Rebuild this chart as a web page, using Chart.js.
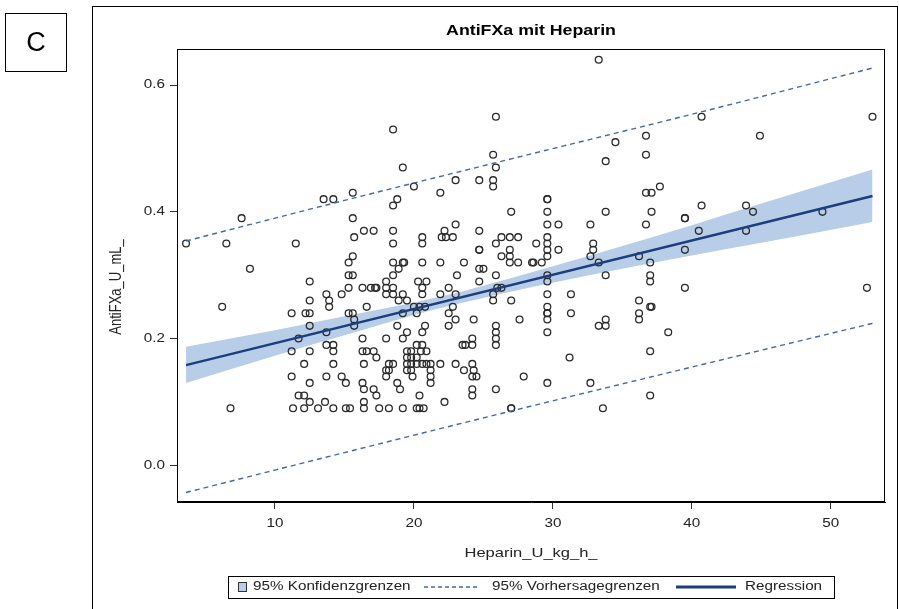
<!DOCTYPE html>
<html>
<head>
<meta charset="utf-8">
<title>AntiFXa mit Heparin</title>
<script src="https://cdn.jsdelivr.net/npm/chart.js@4.4.1/dist/chart.umd.min.js"></script>
<style>
  html, body { margin: 0; padding: 0; background: #fff; }
</style>
</head>
<body>
<canvas id="plot" width="899" height="609"></canvas>
<script>
// Beobachtungen: Heparin-Dosis (U/kg/h) gegen Anti-Xa-Spiegel (U/mL)
const heparin = [
  18.5, 19.2, 20.0, 7.6, 13.5, 14.2, 15.6, 15.6, 16.4, 17.1, 18.5, 18.8, 18.5,
  33.3, 25.9, 25.7, 25.9, 23.0, 24.7, 25.7, 25.7, 21.9, 34.5, 33.8, 36.7, 36.7, 36.7, 37.1,
  29.6, 29.6, 29.6, 27.0, 33.8, 37.1, 23.0, 24.7, 29.6, 30.4, 32.7, 36.7, 22.2,
  53.0, 40.7, 44.9, 37.7, 40.7, 39.5, 39.5, 43.9, 44.4, 49.4, 40.5, 43.9,
  39.5, 39.5, 52.6, 38.3, 37.0, 37.0, 37.0, 37.0, 37.1, 37.0, 37.0,
  3.6, 6.5, 8.2, 6.2, 6.8,
  11.5, 15.7, 18.5, 15.6, 15.3, 18.5, 19.2, 19.3, 18.9, 18.5, 15.3, 15.6, 12.5, 18.0,
  15.3, 16.3, 16.9, 17.2, 17.3, 18.0, 18.5, 13.7, 14.8, 18.0, 18.5, 19.2,
  12.5, 13.9, 18.9, 19.5, 13.9, 16.6, 20.0, 11.2, 12.2, 12.5, 15.3, 15.6, 19.2, 20.2,
  15.7, 12.5, 15.7, 18.8, 13.7, 19.5, 11.7, 16.3, 18.0, 19.2, 13.7, 14.2,
  11.2, 12.5, 14.2, 16.3, 16.6, 17.1, 17.3, 12.1, 14.2, 16.4, 18.2, 18.5, 18.0, 18.2,
  11.2, 13.7, 14.8, 18.0, 12.5, 15.1, 16.3, 18.8, 16.4, 17.1, 19.0, 11.7, 12.1, 17.3,
  12.5, 13.6, 16.4, 11.3, 12.1, 13.1, 14.2, 15.1, 15.4, 16.4, 17.5, 18.2, 19.2, 20.2,
  19.5, 19.8, 20.5, 20.9, 20.2, 20.6, 19.5, 19.8, 20.2, 19.5, 19.8, 20.2, 20.6, 20.9, 21.2,
  19.5, 19.8, 21.2, 19.9, 21.2, 21.2, 20.4, 20.6, 20.8, 20.3, 20.9, 20.6, 20.6, 20.6, 20.6, 20.6,
  20.4, 20.8,
  22.0, 22.3, 22.8, 26.3, 26.9, 27.5, 29.6, 25.9, 28.8, 29.6, 32.9,
  24.7, 24.7, 26.9, 29.6, 30.4, 32.9, 26.3, 26.9, 29.6, 32.7, 36.2,
  21.9, 23.6, 26.9, 27.5, 28.5, 28.6, 29.2, 33.3, 24.7, 25.0,
  23.1, 25.9, 29.6, 33.8, 24.7, 29.6, 22.5, 26.0, 26.3,
  21.9, 23.0, 25.7, 29.6, 31.3, 25.7, 27.0, 36.2, 22.8, 29.6,
  22.5, 29.6, 29.6, 31.3, 36.2, 23.0, 24.3, 27.6, 29.6, 33.8, 36.2,
  22.5, 25.9, 33.3, 33.8, 25.9, 29.6, 24.2, 25.9, 23.5, 23.7, 24.2, 25.9,
  31.2, 21.9, 23.0, 24.2, 23.6, 24.3, 24.2, 24.5, 27.9, 29.6, 32.7,
  24.2, 25.9, 24.2, 22.2, 20.4, 20.7, 27.0, 27.0, 33.6
];
const antiFXa = [
  0.53, 0.47, 0.44, 0.39, 0.42, 0.42, 0.43, 0.39, 0.37, 0.37, 0.41, 0.42, 0.37,
  0.64, 0.55, 0.49, 0.47, 0.45, 0.45, 0.45, 0.44, 0.43, 0.51, 0.48, 0.52, 0.49, 0.43, 0.43,
  0.42, 0.42, 0.40, 0.40, 0.40, 0.40, 0.38, 0.37, 0.38, 0.38, 0.38, 0.38, 0.37,
  0.55, 0.55, 0.52, 0.44, 0.41, 0.39, 0.39, 0.41, 0.40, 0.40, 0.37, 0.37,
  0.34, 0.28, 0.28, 0.21, 0.32, 0.30, 0.29, 0.25, 0.25, 0.18, 0.11,
  0.35, 0.35, 0.31, 0.25, 0.09,
  0.35, 0.36, 0.35, 0.33, 0.32, 0.32, 0.32, 0.32, 0.31, 0.30, 0.30, 0.30, 0.29, 0.29,
  0.28, 0.28, 0.28, 0.28, 0.28, 0.28, 0.28, 0.27, 0.27, 0.27, 0.27, 0.27,
  0.26, 0.26, 0.26, 0.26, 0.25, 0.25, 0.25, 0.24, 0.24, 0.24, 0.24, 0.24, 0.24, 0.24,
  0.23, 0.22, 0.22, 0.22, 0.21, 0.21, 0.20, 0.20, 0.20, 0.20, 0.19, 0.19,
  0.18, 0.18, 0.18, 0.18, 0.18, 0.18, 0.17, 0.16, 0.16, 0.16, 0.16, 0.16, 0.15, 0.15,
  0.14, 0.14, 0.14, 0.14, 0.13, 0.13, 0.13, 0.13, 0.12, 0.12, 0.12, 0.11, 0.11, 0.11,
  0.10, 0.10, 0.10, 0.09, 0.09, 0.09, 0.09, 0.09, 0.09, 0.09, 0.09, 0.09, 0.09, 0.09,
  0.18, 0.18, 0.18, 0.18, 0.19, 0.19, 0.17, 0.17, 0.17, 0.16, 0.16, 0.16, 0.16, 0.16, 0.16,
  0.15, 0.15, 0.15, 0.14, 0.14, 0.13, 0.11, 0.21, 0.22, 0.29, 0.29, 0.28, 0.27, 0.32, 0.35, 0.36,
  0.25, 0.25,
  0.36, 0.36, 0.36, 0.36, 0.36, 0.36, 0.36, 0.35, 0.35, 0.35, 0.35,
  0.34, 0.34, 0.34, 0.34, 0.34, 0.34, 0.33, 0.33, 0.33, 0.33, 0.33,
  0.32, 0.32, 0.32, 0.32, 0.32, 0.32, 0.32, 0.32, 0.31, 0.31,
  0.30, 0.30, 0.30, 0.30, 0.29, 0.29, 0.28, 0.28, 0.28,
  0.27, 0.27, 0.27, 0.27, 0.27, 0.26, 0.26, 0.26, 0.25, 0.25,
  0.24, 0.24, 0.24, 0.24, 0.24, 0.23, 0.23, 0.23, 0.23, 0.23, 0.23,
  0.22, 0.22, 0.22, 0.22, 0.21, 0.21, 0.20, 0.20, 0.19, 0.19, 0.19, 0.19,
  0.17, 0.16, 0.16, 0.16, 0.15, 0.15, 0.14, 0.14, 0.14, 0.13, 0.13,
  0.12, 0.12, 0.11, 0.10, 0.09, 0.09, 0.09, 0.09, 0.09
];

// Regressionsgerade, Konfidenzband und Vorhersagegrenzen
const fitX = [3.6, 53.0];
const fitY = [0.158, 0.425];
const clX = [3.6, 10, 15, 20, 23.4, 30, 35, 40, 45, 53.0];
const clLower = [0.130, 0.173, 0.205, 0.237, 0.256, 0.288, 0.310, 0.331, 0.351, 0.384];
const clUpper = [0.187, 0.213, 0.235, 0.257, 0.274, 0.314, 0.346, 0.379, 0.413, 0.467];
const plX = [3.6, 15, 28, 40, 53.0];
const plLower = [-0.043, 0.020, 0.091, 0.155, 0.224];
const plUpper = [0.354, 0.418, 0.489, 0.554, 0.627];

const xTicks = [10, 20, 30, 40, 50];
const yTicks = [0.0, 0.2, 0.4, 0.6];

const bandColor = '#b8cde8';
const fitColor = '#1d3e7c';
const predColor = '#4468a4';
const textColor = '#222';
const font = 'Arial, "Liberation Sans", sans-serif';
const SX = 1.27; // Schrift etwas breiter laufen lassen

const pts = (xs, ys) => xs.map((x, i) => ({ x: x, y: ys[i] }));

Chart.defaults.font.family = font;
Chart.defaults.color = textColor;

function wideText(ctx, text, x, y, align) {
  ctx.save();
  ctx.translate(x, y);
  ctx.scale(SX, 1);
  ctx.textAlign = align;
  ctx.textBaseline = 'middle';
  ctx.fillText(text, 0, 0);
  ctx.restore();
}

// Rahmen, Titel, Achsenbeschriftung, Panel-Buchstabe und Legende
const decor = {
  id: 'decor',
  beforeDraw(chart) {
    const ctx = chart.ctx;
    ctx.save();
    ctx.fillStyle = '#fff';
    ctx.fillRect(0, 0, chart.width, chart.height);
    ctx.restore();
  },
  afterDraw(chart) {
    const ctx = chart.ctx;
    const a = chart.chartArea;
    const sx = chart.scales.x, sy = chart.scales.y;
    ctx.save();
    ctx.strokeStyle = '#000';
    ctx.lineWidth = 1;
    ctx.strokeRect(Math.round(a.left) + 0.5, Math.round(a.top) + 0.5,
      Math.round(a.right - a.left) - 1, Math.round(a.bottom - a.top) - 1);

    // outer frame and panel box
    ctx.strokeRect(92.5, 6.5, 805, 620);
    ctx.strokeRect(5.5, 13.5, 61, 58);
    ctx.fillStyle = '#000';
    ctx.font = '27px ' + font;
    ctx.textAlign = 'center';
    ctx.textBaseline = 'middle';
    ctx.fillText('C', 36, 44);

    // title
    ctx.font = 'bold 14px ' + font;
    wideText(ctx, 'AntiFXa mit Heparin', (a.left + a.right) / 2, 31, 'center');

    // tick labels
    ctx.fillStyle = textColor;
    ctx.font = '12px ' + font;
    xTicks.forEach(v => wideText(ctx, String(v), sx.getPixelForValue(v), 524, 'center'));
    yTicks.forEach(v => wideText(ctx, v.toFixed(1), 165, sy.getPixelForValue(v), 'right'));

    // axis titles
    ctx.font = '13px ' + font;
    wideText(ctx, 'Heparin_U_kg_h_', (a.left + a.right) / 2, 553, 'center');
    ctx.save();
    ctx.translate(116, 287);
    ctx.rotate(-Math.PI / 2);
    ctx.scale(1, SX);
    ctx.textAlign = 'center';
    ctx.textBaseline = 'middle';
    ctx.fillText('AntiFXa_U_mL_', 0, 0);
    ctx.restore();

    // legend
    const ly = 587;
    ctx.strokeStyle = '#000';
    ctx.strokeRect(228.5, 576.5, 606, 22);
    ctx.font = '12px ' + font;
    ctx.fillStyle = bandColor;
    ctx.fillRect(238, 582, 9, 10);
    ctx.strokeStyle = '#333';
    ctx.strokeRect(238.5, 582.5, 8, 9);
    ctx.fillStyle = textColor;
    wideText(ctx, '95% Konfidenzgrenzen', 253, ly, 'left');
    ctx.strokeStyle = predColor;
    ctx.lineWidth = 1.3;
    ctx.setLineDash([4, 3]);
    ctx.beginPath();
    ctx.moveTo(424, ly);
    ctx.lineTo(478, ly);
    ctx.stroke();
    ctx.setLineDash([]);
    wideText(ctx, '95% Vorhersagegrenzen', 492, ly, 'left');
    ctx.strokeStyle = fitColor;
    ctx.lineWidth = 3;
    ctx.beginPath();
    ctx.moveTo(676, ly);
    ctx.lineTo(736, ly);
    ctx.stroke();
    wideText(ctx, 'Regression', 745, ly, 'left');
    ctx.restore();
  }
};

new Chart(document.getElementById('plot'), {
  type: 'scatter',
  data: {
    datasets: [
      {
        type: 'line', label: 'KI unten', data: pts(clX, clLower),
        borderColor: 'rgba(0,0,0,0)', borderWidth: 1, pointRadius: 0,
        cubicInterpolationMode: 'monotone', fill: false, order: 6
      },
      {
        type: 'line', label: '95% Konfidenzgrenzen', data: pts(clX, clUpper),
        borderColor: 'rgba(0,0,0,0)', borderWidth: 1, pointRadius: 0,
        cubicInterpolationMode: 'monotone', fill: '-1', backgroundColor: bandColor, order: 5
      },
      {
        label: 'AntiFXa', data: pts(heparin, antiFXa),
        pointStyle: 'circle', pointRadius: 3.4, borderWidth: 1.3,
        borderColor: '#2a2a2a', backgroundColor: 'rgba(0,0,0,0)', order: 4
      },
      {
        type: 'line', label: '95% Vorhersagegrenzen', data: pts(plX, plUpper),
        borderColor: predColor, borderWidth: 1.4, borderDash: [5, 4], pointRadius: 0,
        cubicInterpolationMode: 'monotone', fill: false, order: 3
      },
      {
        type: 'line', label: 'VG unten', data: pts(plX, plLower),
        borderColor: predColor, borderWidth: 1.4, borderDash: [5, 4], pointRadius: 0,
        cubicInterpolationMode: 'monotone', fill: false, order: 2
      },
      {
        type: 'line', label: 'Regression', data: pts(fitX, fitY),
        borderColor: fitColor, borderWidth: 2.5, pointRadius: 0, fill: false, order: 1
      }
    ]
  },
  options: {
    responsive: false,
    animation: false,
    events: [],
    layout: { padding: { left: 0, right: 14, top: 49, bottom: 0 } },
    plugins: {
      legend: { display: false },
      title: { display: false },
      tooltip: { enabled: false }
    },
    scales: {
      x: {
        type: 'linear', min: 2.95, max: 53.9,
        afterBuildTicks: s => { s.ticks = xTicks.map(v => ({ value: v })); },
        afterFit: s => { s.height = 107; },
        border: { display: true, color: '#000', width: 1 },
        grid: { display: true, drawOnChartArea: false, drawTicks: true, tickLength: 7, tickColor: '#333', tickWidth: 1 },
        ticks: { display: false }
      },
      y: {
        type: 'linear', min: -0.058, max: 0.657,
        afterBuildTicks: s => { s.ticks = yTicks.map(v => ({ value: v })); },
        afterFit: s => { s.width = 177; },
        border: { display: true, color: '#000', width: 1 },
        grid: { display: true, drawOnChartArea: false, drawTicks: true, tickLength: 7, tickColor: '#333', tickWidth: 1 },
        ticks: { display: false }
      }
    }
  },
  plugins: [decor]
});
</script>
</body>
</html>
